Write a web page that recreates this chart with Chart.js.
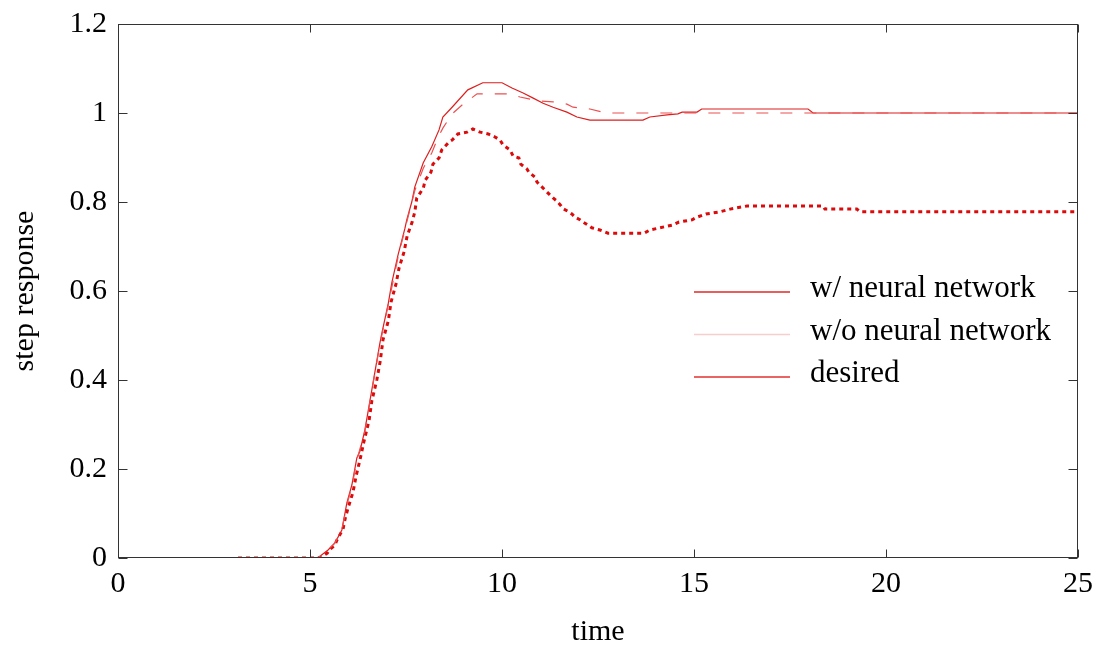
<!DOCTYPE html>
<html lang="en">
<head>
    <meta charset="UTF-8">
    <title>Step response</title>
    <script src="https://cdn.jsdelivr.net/npm/chart.js"></script>
    <style>
        body { margin: 0; background: #fff; }
        .chart-box { width: 1099px; height: 647px; position: relative; }
    </style>
</head>
<body>
    <div class="chart-box">
        <canvas id="stepChart"></canvas>
    </div>

    <script>
        // w/ neural network (solid)
        const withNnT = [3.125, 5.2, 5.47, 5.65, 5.83, 5.96, 6.09, 6.22, 6.3, 6.43, 6.61, 6.82, 6.87, 7.04, 7.13, 7.29, 7.47, 7.52, 7.65, 7.73, 7.95, 8.17, 8.36, 8.46, 8.7, 9.11, 9.5, 10.0, 10.26, 10.55, 10.8, 11.07, 11.33, 11.69, 11.95, 12.29, 13.67, 13.85, 14.3, 14.58, 14.69, 15.08, 15.2, 17.97, 18.1, 25];
        const withNnY = [0, 0, 0.018, 0.034, 0.063, 0.124, 0.164, 0.225, 0.24, 0.288, 0.378, 0.483, 0.505, 0.573, 0.618, 0.68, 0.74, 0.76, 0.8, 0.834, 0.888, 0.924, 0.962, 0.991, 1.013, 1.052, 1.068, 1.068, 1.056, 1.045, 1.034, 1.022, 1.013, 1.002, 0.991, 0.984, 0.984, 0.991, 0.996, 0.998, 1.002, 1.002, 1.009, 1.009, 1.0, 1.0];

        // w/o neural network (dotted)
        const withoutNnT = [3.125, 5.2, 5.29, 5.45, 5.5, 5.65, 5.7, 5.86, 5.92, 5.99, 6.12, 6.2, 6.3, 6.4, 6.54, 6.61, 6.74, 6.83, 6.9, 7.04, 7.11, 7.24, 7.32, 7.45, 7.53, 7.66, 7.73, 7.78, 7.95, 8.0, 8.15, 8.2, 8.36, 8.43, 8.62, 8.7, 8.85, 9.09, 9.24, 9.43, 9.64, 9.82, 9.95, 10.03, 10.21, 10.29, 10.44, 10.49, 10.65, 10.7, 10.86, 10.91, 10.99, 11.12, 11.2, 11.33, 11.43, 11.54, 11.61, 11.74, 11.82, 11.9, 12.03, 12.11, 12.24, 12.34, 12.55, 12.76, 13.7, 13.85, 14.11, 14.43, 14.61, 14.95, 15.08, 15.31, 15.68, 15.94, 16.38, 18.36, 18.41, 19.24, 19.32, 25];
        const withoutNnY = [0, 0, 0.002, 0.011, 0.018, 0.029, 0.04, 0.065, 0.09, 0.112, 0.148, 0.184, 0.22, 0.26, 0.31, 0.353, 0.4, 0.443, 0.49, 0.533, 0.575, 0.616, 0.652, 0.688, 0.724, 0.755, 0.778, 0.809, 0.831, 0.849, 0.867, 0.885, 0.899, 0.917, 0.935, 0.939, 0.953, 0.957, 0.964, 0.957, 0.953, 0.946, 0.939, 0.928, 0.917, 0.903, 0.899, 0.885, 0.874, 0.867, 0.856, 0.845, 0.838, 0.827, 0.82, 0.809, 0.802, 0.791, 0.784, 0.778, 0.773, 0.766, 0.76, 0.755, 0.748, 0.742, 0.737, 0.73, 0.73, 0.737, 0.742, 0.748, 0.755, 0.76, 0.766, 0.773, 0.778, 0.784, 0.791, 0.791, 0.784, 0.784, 0.778, 0.778];

        // desired (dashed)
        const desiredT = [3.125, 5.2, 5.47, 5.65, 5.83, 5.96, 6.09, 6.22, 6.43, 6.61, 6.82, 7.04, 7.29, 7.52, 7.73, 7.95, 8.17, 8.33, 8.46, 8.7, 8.96, 9.35, 10.2, 10.47, 10.73, 10.99, 11.33, 11.69, 11.85, 12.29, 12.7, 25];
        const desiredY = [0, 0, 0.018, 0.034, 0.063, 0.12, 0.16, 0.22, 0.285, 0.375, 0.48, 0.57, 0.675, 0.755, 0.826, 0.876, 0.91, 0.944, 0.966, 0.998, 1.018, 1.043, 1.043, 1.036, 1.031, 1.027, 1.025, 1.02, 1.013, 1.009, 1.0, 1.0];

        const seriesLabels = ['w/ neural network', 'w/o neural network', 'desired'];
        const legendColors = ['#e02828', '#f8cdcd', '#e43030'];

        const serif = "'Liberation Serif', 'Times New Roman', serif";

        function toPoints(ts, ys) {
            return ts.map((t, i) => ({ x: t, y: ys[i] }));
        }

        // box, inward ticks and the legend inside the plot
        const framePlugin = {
            id: 'frame',
            afterDraw(chart) {
                const { ctx, chartArea: a, scales } = chart;
                const L = Math.round(a.left) + 0.5, R = Math.round(a.right) - 0.5;
                const T = Math.round(a.top) + 0.5, B = Math.round(a.bottom) - 0.5;
                ctx.save();
                ctx.strokeStyle = '#333';
                ctx.lineWidth = 1;
                ctx.strokeRect(L, T, R - L, B - T);
                ctx.beginPath();
                scales.x.ticks.forEach(t => {
                    const px = Math.round(scales.x.getPixelForValue(t.value)) + 0.5;
                    ctx.moveTo(px, B); ctx.lineTo(px, B - 8);
                    ctx.moveTo(px, T); ctx.lineTo(px, T + 8);
                });
                scales.y.ticks.forEach(t => {
                    const py = Math.round(scales.y.getPixelForValue(t.value)) + 0.5;
                    ctx.moveTo(L, py); ctx.lineTo(L + 9, py);
                    ctx.moveTo(R, py); ctx.lineTo(R - 9, py);
                });
                ctx.stroke();

                // legend
                ctx.font = '31px ' + serif;
                ctx.fillStyle = '#000';
                ctx.textBaseline = 'alphabetic';
                seriesLabels.forEach((lbl, i) => {
                    const y = 292 + i * 42.5;
                    ctx.strokeStyle = legendColors[i];
                    ctx.lineWidth = 1.5;
                    ctx.beginPath();
                    ctx.moveTo(694, y);
                    ctx.lineTo(790, y);
                    ctx.stroke();
                    ctx.fillText(lbl, 810, y + 5);
                });
                ctx.restore();
            }
        };

        new Chart(document.getElementById('stepChart'), {
            type: 'line',
            data: {
                datasets: [
                    {
                        label: seriesLabels[2],
                        data: toPoints(desiredT, desiredY),
                        borderColor: 'rgb(236, 80, 80)',
                        borderWidth: 1.2,
                        borderDash: [12, 12],
                        pointRadius: 0, tension: 0
                    },
                    {
                        label: seriesLabels[0],
                        data: toPoints(withNnT, withNnY),
                        borderColor: 'rgb(222, 30, 30)',
                        borderWidth: 1.2,
                        pointRadius: 0, tension: 0
                    },
                    {
                        label: seriesLabels[1],
                        data: toPoints(withoutNnT, withoutNnY),
                        borderColor: 'rgb(220, 10, 10)',
                        borderWidth: 3,
                        borderDash: [4, 4],
                        borderCapStyle: 'butt',
                        pointRadius: 0, tension: 0
                    }
                ]
            },
            options: {
                responsive: true, maintainAspectRatio: false, animation: false,
                layout: { padding: { top: 24, right: 21, left: 0, bottom: 0 } },
                plugins: { legend: { display: false }, tooltip: { enabled: false } },
                scales: {
                    x: {
                        type: 'linear', min: 0, max: 25,
                        grid: { display: false, drawTicks: false },
                        border: { display: false },
                        ticks: { stepSize: 5, color: '#000', font: { family: serif, size: 30, lineHeight: 1.35 }, padding: 6, maxRotation: 0 },
                        title: { display: true, text: 'time', color: '#000', font: { family: serif, size: 30, lineHeight: 1 }, padding: { top: 0, bottom: 0 } },
                        afterFit: s => { s.height = 89; }
                    },
                    y: {
                        min: 0, max: 1.2,
                        grid: { display: false, drawTicks: false },
                        border: { display: false },
                        ticks: {
                            stepSize: 0.2, color: '#000', font: { family: serif, size: 30, lineHeight: 0.8 }, padding: 11,
                            callback: v => String(+v.toFixed(1))
                        },
                        title: { display: true, text: 'step response', color: '#000', font: { family: serif, size: 30, lineHeight: 1 }, padding: { top: 10, bottom: 0 } },
                        afterFit: s => { s.width = 118; }
                    }
                }
            },
            plugins: [framePlugin]
        });
    </script>
</body>
</html>
